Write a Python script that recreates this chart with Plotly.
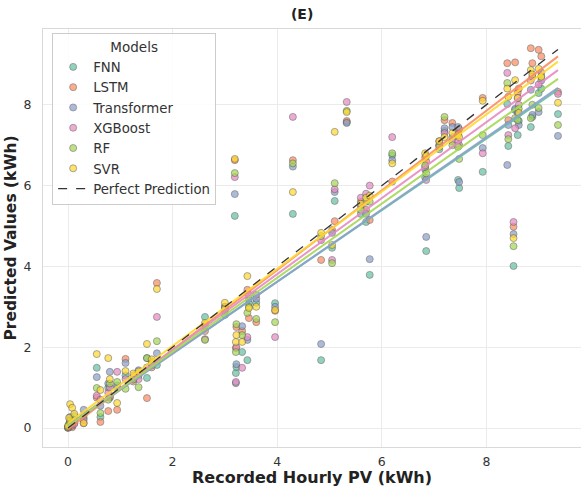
import plotly.graph_objects as go

# ---- data ----
models = ["FNN", "LSTM", "Transformer", "XGBoost", "RF", "SVR"]
colors = ["#66c2a5", "#fc8d62", "#8da0cb", "#e78ac3", "#a6d854", "#ffd92f"]

recorded = [0.00, 0.02, 0.04, 0.08, 0.12, 0.30, 0.55, 0.62, 0.77, 0.80, 0.94, 1.10, 1.25, 1.35,
            1.51, 1.60, 1.70, 2.62, 3.00, 3.19, 3.21, 3.22, 3.33, 3.43, 3.46, 3.60, 3.96, 4.30,
            4.84, 5.05, 5.10, 5.33, 5.60, 5.70, 5.77, 6.20, 6.83, 6.85, 7.10, 7.20, 7.35, 7.46,
            7.48, 7.93, 8.40, 8.42, 8.52, 8.55, 8.60, 8.62, 8.85, 8.88, 9.00, 9.05, 9.37]

fnn = [0.02, 0.10, 0.20, 0.05, 0.30, 0.25, 1.49, 0.27, 1.00, 0.75, 1.00, 1.30, 1.20, 1.30,
       1.24, 1.60, 1.56, 2.75, 2.80, 5.25, 1.36, 1.51, 1.88, 1.68, 3.09, 3.10, 3.09, 5.30,
       1.68, 4.46, 5.62, 7.57, 5.30, 5.10, 3.79, 6.75, 6.20, 4.38, 6.90, 7.35, 7.20, 6.14,
       5.94, 6.34, 8.02, 6.98, 4.01, 7.87, 7.25, 7.60, 7.45, 7.70, 8.29, 8.40, 7.77]
lstm = [0.00, 0.05, 0.10, 0.02, 0.12, 0.12, 0.75, 0.15, 0.42, 0.77, 0.45, 1.71, 1.15, 1.35,
        0.74, 1.50, 3.59, 2.40, 3.00, 6.63, 1.98, 2.50, 2.40, 3.42, 2.72, 2.62, 2.90, 6.63,
        4.16, 4.90, 5.12, 7.60, 5.60, 5.40, 5.15, 6.10, 6.70, 6.60, 7.10, 7.62, 7.55, 7.30,
        7.40, 8.17, 9.03, 7.62, 4.98, 9.05, 8.30, 8.40, 9.40, 9.03, 9.36, 9.20, 8.32]
transformer = [0.03, 0.08, 0.27, 0.10, 0.18, 0.45, 1.26, 0.55, 1.10, 1.39, 1.05, 1.61, 1.25, 1.43,
               1.73, 1.55, 1.85, 2.55, 2.90, 5.79, 1.11, 1.58, 2.52, 2.18, 3.20, 3.20, 3.00, 6.47,
               2.08, 4.83, 5.84, 7.55, 5.50, 5.30, 4.18, 6.63, 6.40, 4.73, 7.00, 7.42, 7.45, 7.45,
               6.09, 6.93, 6.51, 7.50, 4.80, 7.90, 7.80, 7.50, 8.37, 7.75, 7.82, 8.60, 7.23]
xgboost = [0.01, 0.04, 0.15, 0.06, 0.10, 0.20, 0.80, 0.70, 0.87, 1.00, 1.39, 1.21, 1.30, 1.21,
           1.50, 1.65, 2.75, 2.20, 3.00, 6.21, 1.14, 2.00, 1.49, 2.25, 3.30, 3.30, 2.25, 7.70,
           4.65, 4.16, 5.91, 8.07, 5.70, 5.80, 6.00, 7.20, 6.46, 6.14, 7.00, 7.30, 7.10, 7.10,
           7.00, 6.80, 8.79, 7.25, 5.10, 7.42, 8.17, 8.00, 8.60, 8.70, 8.50, 8.80, 8.27]
rf = [0.02, 0.06, 0.18, 0.12, 0.20, 0.32, 0.99, 0.37, 0.70, 1.10, 1.14, 0.97, 1.20, 1.01,
      1.73, 1.60, 2.15, 2.18, 2.95, 6.31, 1.88, 2.57, 2.30, 2.85, 3.00, 2.70, 2.62, 6.55,
      4.75, 4.08, 6.06, 7.85, 5.40, 5.60, 5.60, 6.80, 6.50, 6.30, 6.96, 7.70, 7.00, 6.96,
      6.66, 7.25, 8.54, 7.15, 4.50, 7.67, 7.62, 7.90, 7.67, 8.00, 7.92, 8.70, 7.50]
svr = [0.05, 0.25, 0.59, 0.50, 0.35, 0.12, 1.83, 0.94, 1.73, 1.21, 0.62, 1.41, 1.35, 1.40,
       2.08, 1.70, 3.44, 2.60, 3.10, 6.66, 2.13, 2.30, 2.13, 3.76, 2.97, 3.00, 2.92, 5.84,
       4.83, 4.53, 7.33, 7.82, 5.55, 5.70, 5.75, 6.55, 6.80, 6.73, 7.10, 7.20, 7.30, 7.25,
       7.20, 8.10, 8.40, 8.20, 4.70, 8.61, 8.17, 7.80, 8.86, 8.75, 8.89, 8.69, 8.05]

# fitted regression lines (slope, intercept)
fit_slope = [0.885, 0.985, 0.893, 0.940, 0.917, 0.955]
fit_intercept = [0.08, -0.03, 0.05, 0.05, 0.05, 0.12]

series = [fnn, lstm, transformer, xgboost, rf, svr]

FONT = "DejaVu Sans"
fig = go.Figure()

for name, col, vals in zip(models, colors, series):
    fig.add_trace(go.Scatter(
        x=recorded, y=vals, mode="markers", name=name,
        marker=dict(size=7, color=col, opacity=0.72,
                    line=dict(width=0.7, color="#555555")),
    ))

xmin, xmax = min(recorded), max(recorded)
for name, col, m, b in zip(models, colors, fit_slope, fit_intercept):
    fig.add_trace(go.Scatter(
        x=[xmin, xmax], y=[m * xmin + b, m * xmax + b], mode="lines",
        line=dict(color=col, width=2), opacity=0.9, showlegend=False,
        hoverinfo="skip",
    ))

fig.add_trace(go.Scatter(
    x=[xmin, xmax], y=[xmin, xmax], mode="lines", name="Perfect Prediction",
    line=dict(color="#333333", width=1.3, dash="dash"),
))

fig.update_layout(
    width=581, height=487,
    margin=dict(l=43, r=0, t=29, b=40),
    plot_bgcolor="white", paper_bgcolor="white",
    font=dict(family=FONT, color="#333333", size=12),
    title=dict(text="<b>(E)</b>", x=0.52, xanchor="center", y=0.971, yanchor="middle",
               font=dict(size=14, color="#222222", family=FONT)),
    legend=dict(
        x=0.017, y=0.99, xanchor="left", yanchor="top",
        bgcolor="rgba(255,255,255,0.85)", bordercolor="#cccccc", borderwidth=1,
        font=dict(size=13.3, color="#333333", family=FONT),
        title=dict(text="Models", side="top center", font=dict(size=13.5, color="#333333")),
        itemsizing="trace", tracegroupgap=0,
    ),
    showlegend=True,
)

fig.update_xaxes(
    range=[-0.478, 9.81], tickvals=[0, 2, 4, 6, 8], ticks="", showgrid=True,
    gridcolor="#ebebeb", gridwidth=1, zeroline=False,
    showline=True, linecolor="#d9d9d9", linewidth=1.2, mirror=True,
    tickfont=dict(size=12.5, color="#333333"), ticklabelstandoff=3,
    title=dict(text="<b>Recorded Hourly PV (kWh)</b>", font=dict(size=16, color="#222222"),
               standoff=3),
)
fig.update_yaxes(
    range=[-0.47, 9.876], tickvals=[0, 2, 4, 6, 8], ticks="", showgrid=True,
    gridcolor="#ebebeb", gridwidth=1, zeroline=False,
    showline=True, linecolor="#d9d9d9", linewidth=1.2, mirror=False,
    tickfont=dict(size=12.5, color="#333333"), ticklabelstandoff=8,
    title=dict(text="<b>Predicted Values (kWh)</b>", font=dict(size=15.5, color="#222222"),
               standoff=3),
)

fig.write_html("out.html")
